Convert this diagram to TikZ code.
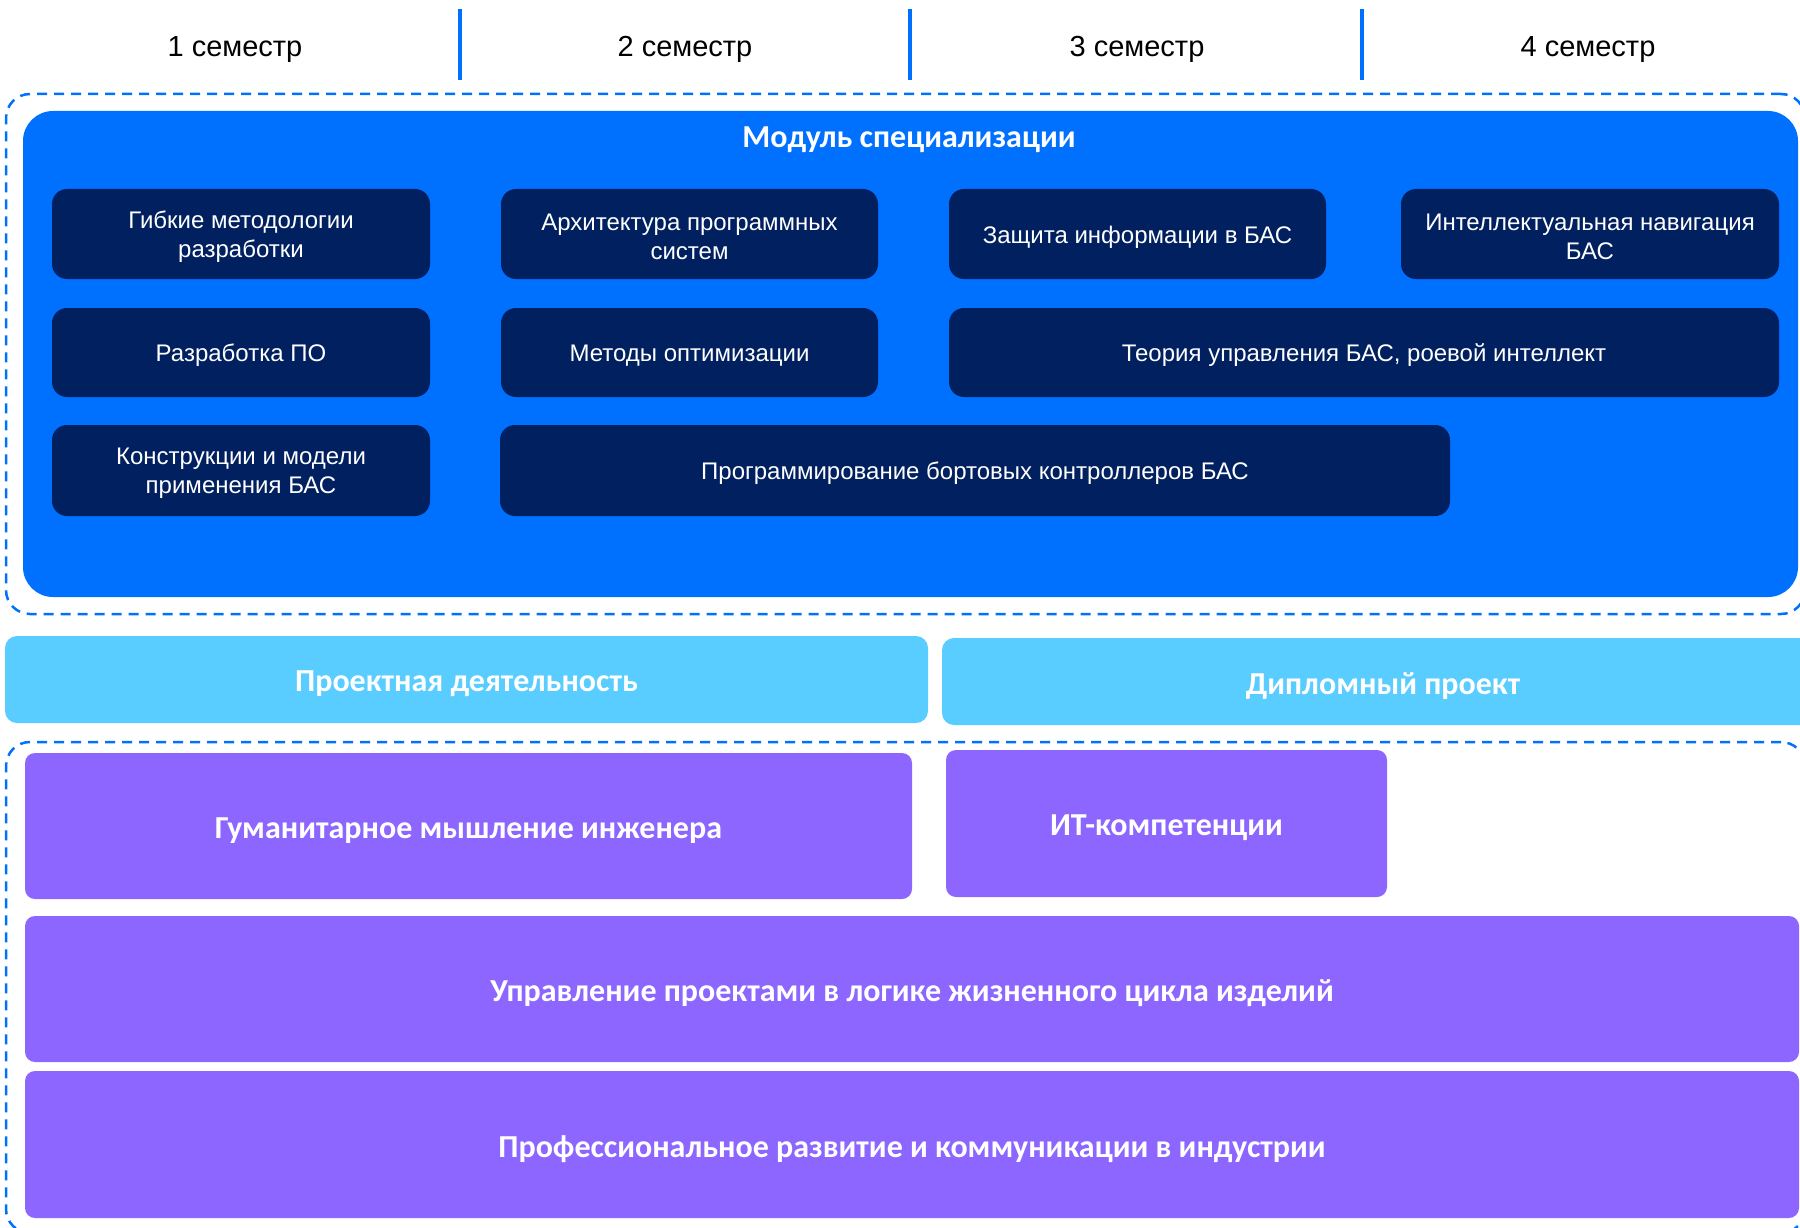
\documentclass[tikz,border=0pt]{standalone}
\usepackage{fontspec}
\setmainfont{Liberation Sans}
\newfontfamily\headfont{Carlito}
\definecolor{modblue}{RGB}{0,112,255}
\definecolor{navy}{RGB}{0,32,96}
\definecolor{sky}{RGB}{89,205,255}
\definecolor{violet}{RGB}{140,102,255}
\tikzset{
  semlabel/.style={inner sep=0pt, font=\fontsize{29}{35}\selectfont, text=black},
  divider/.style={draw=modblue, line width=4pt},
  dashframe/.style={draw=modblue, line width=2.5pt, dash pattern=on 10pt off 7pt, rounded corners=24pt, inner sep=0pt},
  modpanel/.style={fill=modblue, rounded corners=30pt, inner sep=0pt},
  course/.style={fill=navy, rounded corners=15pt, inner sep=0pt},
  coursetext/.style={inner sep=0pt, text=white, align=center, font=\fontsize{24}{29}\selectfont, yshift=-3pt},
  projbar/.style={fill=sky, rounded corners=12pt, inner sep=0pt},
  corebox/.style={fill=violet, rounded corners=10pt, inner sep=0pt},
  boldtext/.style={inner sep=0pt, text=white, font=\headfont\bfseries\fontsize{32}{38}\selectfont, yshift=-4.5pt},
}
\begin{document}
\begin{tikzpicture}[x=1pt,y=-1pt]
\useasboundingbox (0,0) rectangle (1800,1228);
\clip (0,0) rectangle (1800,1228);

% semester header
\node[semlabel] (s1) at (235,49.5) {1 семестр};
\node[semlabel] (s2) at (685,49.5) {2 семестр};
\node[semlabel] (s3) at (1137,49.5) {3 семестр};
\node[semlabel] (s4) at (1588,49.5) {4 семестр};
\draw[divider] (460,9) -- (460,80);
\draw[divider] (910,9) -- (910,80);
\draw[divider] (1362,9) -- (1362,80);

% specialisation module
\node[dashframe, minimum width=1799pt, minimum height=520pt] (frameA) at (905.5,354) {};
\node[modpanel, minimum width=1775pt, minimum height=486pt] (module) at (910.5,354) {};
\node[inner sep=0pt, text=white, font=\headfont\bfseries\fontsize{32}{38}\selectfont] (mtitle) at (909,139.5) {Модуль специализации};

\node[course, minimum width=378pt, minimum height=90pt] (c11) at (241,234) {};
\node[course, minimum width=377pt, minimum height=90pt] (c12) at (689.5,234) {};
\node[course, minimum width=377pt, minimum height=90pt] (c13) at (1137.5,234) {};
\node[course, minimum width=378pt, minimum height=90pt] (c14) at (1590,234) {};
\node[course, minimum width=378pt, minimum height=89pt] (c21) at (241,352.5) {};
\node[course, minimum width=377pt, minimum height=89pt] (c22) at (689.5,352.5) {};
\node[course, minimum width=830pt, minimum height=89pt] (c23) at (1364,352.5) {};
\node[course, minimum width=378pt, minimum height=91pt] (c31) at (241,470.5) {};
\node[course, minimum width=950pt, minimum height=91pt] (c32) at (975,470.5) {};

\node[coursetext] (c11t) at (c11.center) {Гибкие методологии\\разработки};
\node[coursetext] (c12t) at (c12.center) {Архитектура программных\\систем};
\node[coursetext] (c13t) at (c13.center) {Защита информации в БАС};
\node[coursetext] (c14t) at (c14.center) {Интеллектуальная навигация\\БАС};
\node[coursetext] (c21t) at (c21.center) {Разработка ПО};
\node[coursetext] (c22t) at (c22.center) {Методы оптимизации};
\node[coursetext] (c23t) at (c23.center) {Теория управления БАС, роевой интеллект};
\node[coursetext] (c31t) at (c31.center) {Конструкции и модели\\применения БАС};
\node[coursetext] (c32t) at (c32.center) {Программирование бортовых контроллеров БАС};

% project work
\node[projbar, minimum width=923pt, minimum height=87pt] (proj) at (466.5,679.5) {};
\node[projbar, minimum width=882pt, minimum height=87pt] (thesis) at (1383,681.5) {};
\node[boldtext] (projt) at (proj.center) {Проектная деятельность};
\node[boldtext] (thesist) at (thesis.center) {Дипломный проект};

% core modules
\node[dashframe, minimum width=1799pt, minimum height=491pt] (frameB) at (905.5,987.5) {};
\node[corebox, minimum width=887pt, minimum height=146pt] (hum) at (468.5,826) {};
\node[corebox, minimum width=441pt, minimum height=147pt] (itc) at (1166.5,823.5) {};
\node[corebox, minimum width=1774pt, minimum height=146pt] (pm) at (912,989) {};
\node[corebox, minimum width=1774pt, minimum height=147pt] (prof) at (912,1144.5) {};
\node[boldtext] (humt) at (hum.center) {Гуманитарное мышление инженера};
\node[boldtext] (itct) at (itc.center) {ИТ-компетенции};
\node[boldtext] (pmt) at (pm.center) {Управление проектами в логике жизненного цикла изделий};
\node[boldtext] (proft) at (prof.center) {Профессиональное развитие и коммуникации в индустрии};
\end{tikzpicture}
\end{document}
